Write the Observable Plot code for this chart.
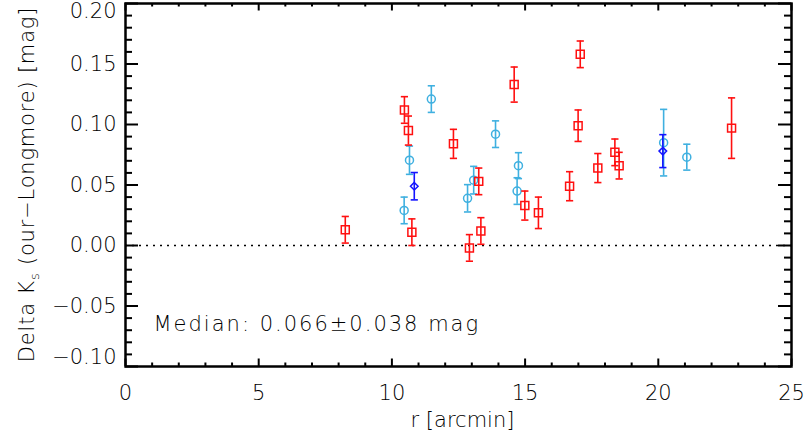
<!DOCTYPE html>
<html>
<head>
<meta charset="utf-8">
<script src="https://cdn.jsdelivr.net/npm/d3@7"></script>
<script src="https://cdn.jsdelivr.net/npm/@observablehq/plot@0.6"></script>
<style>
  html, body { margin: 0; padding: 0; background: #fff; }
  svg { display: block; }
</style>
</head>
<body>
<div id="chart"></div>
<script>
// ---- data ----
const redR = [8.25, 10.47, 10.62, 10.75, 12.31, 12.91, 13.26, 13.34, 14.59, 14.99, 15.50, 16.67, 16.99, 17.07, 17.73, 18.37, 18.53, 22.75];
const redD = [0.013, 0.112, 0.095, 0.011, 0.084, -0.002, 0.053, 0.012, 0.133, 0.033, 0.027, 0.049, 0.099, 0.158, 0.064, 0.077, 0.066, 0.097];
const redE = [0.011, 0.011, 0.012, 0.011, 0.012, 0.011, 0.011, 0.011, 0.0145, 0.012, 0.013, 0.012, 0.013, 0.011, 0.012, 0.011, 0.011, 0.025];

const cyanR = [10.46, 10.66, 11.48, 12.84, 13.07, 13.89, 14.70, 14.75, 20.20, 21.07];
const cyanD = [0.029, 0.0705, 0.121, 0.039, 0.054, 0.092, 0.045, 0.066, 0.085, 0.073];
const cyanE = [0.011, 0.0117, 0.011, 0.0113, 0.0114, 0.011, 0.011, 0.0107, 0.0275, 0.0107];

const blueR = [10.84, 20.17];
const blueD = [0.049, 0.078];
const blueE = [0.0113, 0.0136];

const xMajorTicks = [0, 5, 10, 15, 20, 25];
const xMinorTicks = d3.range(0, 25.5, 1).filter(d => d % 5 !== 0);
const yMajorTicks = [-0.10, -0.05, 0.00, 0.05, 0.10, 0.15, 0.20];
const yMinorTicks = d3.range(-10, 21, 1).filter(d => d % 5 !== 0).map(d => d / 100);
const zeroLine = [0];

const xLabel = "r [arcmin]";
const medianLabel = "Median: 0.066±0.038 mag";

// ---- build tables ----
const toRows = (R, D, E) => R.map((r, i) => ({r, d: D[i], e: E[i]}));
const red = toRows(redR, redD, redE);
const cyan = toRows(cyanR, cyanD, cyanE);
const blue = toRows(blueR, blueD, blueE);

// ---- layout ----
const W = 806, H = 438;
const mL = 125, mR = 15, mT = 3, mB = 72;
const innerW = W - mL - mR, innerH = H - mT - mB;

const cap = {draw(ctx, size) { const r = Math.sqrt(size / Math.PI); ctx.moveTo(-r, 0); ctx.lineTo(r, 0); }};
const diamond = {draw(ctx, size) { const r = Math.sqrt(size / Math.PI); ctx.moveTo(0, -r); ctx.lineTo(r, 0); ctx.lineTo(0, r); ctx.lineTo(-r, 0); ctx.closePath(); }};

const fmt = d3.format(".2f");

function series(rows, color, symbol, r) {
  return [
    Plot.ruleX(rows, {x: "r", y1: d => d.d - d.e, y2: d => d.d + d.e, stroke: color, strokeWidth: 1.6}),
    Plot.dot(rows, {x: "r", y: d => d.d + d.e, symbol: cap, r: 3.6, stroke: color, strokeWidth: 1.6, fill: "none"}),
    Plot.dot(rows, {x: "r", y: d => d.d - d.e, symbol: cap, r: 3.6, stroke: color, strokeWidth: 1.6, fill: "none"}),
    Plot.dot(rows, {x: "r", y: "d", symbol, r, stroke: color, strokeWidth: 1.5, fill: "none"})
  ];
}

const tk = {stroke: "black", strokeWidth: 2};

const chart = Plot.plot({
  width: W, height: H,
  marginLeft: mL, marginRight: mR, marginTop: mT, marginBottom: mB,
  style: {fontFamily: "'DejaVu Sans', sans-serif", fontSize: "21px", fontWeight: 300, color: "#000", background: "#fff"},
  x: {domain: [0, 25]},
  y: {domain: [-0.10, 0.20]},
  marks: [
    Plot.ruleY(zeroLine, {y: d => d, stroke: "black", strokeWidth: 1.6, strokeDasharray: "2,5"}),
    ...series(cyan, "#3fb0e0", "circle", 4),
    ...series(red, "#ff1010", "square", 4.5),
    ...series(blue, "#1414ff", diamond, 3.8),
    // inward ticks on all four sides
    Plot.tickX(xMinorTicks, {x: d => d, insetTop: innerH - 3.5, ...tk}),
    Plot.tickX(xMinorTicks, {x: d => d, insetBottom: innerH - 3.5, ...tk}),
    Plot.tickX(xMajorTicks, {x: d => d, insetTop: innerH - 7.5, ...tk}),
    Plot.tickX(xMajorTicks, {x: d => d, insetBottom: innerH - 7.5, ...tk}),
    Plot.tickY(yMinorTicks, {y: d => d, insetRight: innerW - 7, ...tk}),
    Plot.tickY(yMinorTicks, {y: d => d, insetLeft: innerW - 7, ...tk}),
    Plot.tickY(yMajorTicks, {y: d => d, insetRight: innerW - 13, ...tk}),
    Plot.tickY(yMajorTicks, {y: d => d, insetLeft: innerW - 13, ...tk}),
    Plot.frame({stroke: "black", strokeWidth: 2.5}),
    // tick labels
    Plot.axisX(xMajorTicks, {tickSize: 0, tickPadding: 19, label: null, tickFormat: d => String(d)}),
    Plot.axisY(yMajorTicks.slice(1, -1), {tickSize: 0, tickPadding: 9, label: null, tickFormat: fmt}),
    Plot.axisY(yMajorTicks.slice(-1), {tickSize: 0, tickPadding: 9, label: null, tickFormat: fmt, dy: 8}),
    Plot.axisY(yMajorTicks.slice(0, 1), {tickSize: 0, tickPadding: 9, label: null, tickFormat: fmt, dy: -9}),
    // titles / annotation
    Plot.text([xLabel], {frameAnchor: "bottom", text: d => d, dx: 4, dy: 60, lineAnchor: "bottom", fill: "#000"}),
    Plot.text([medianLabel], {frameAnchor: "bottom-left", text: d => d, dx: 28, dy: -36, textAnchor: "start", lineAnchor: "bottom", fill: "#000"})
  ]
});

const svg = d3.select(chart);
// wider spacing for the annotation, as in the reference font
svg.selectAll("text").filter(function() { return this.textContent === medianLabel; })
  .style("letter-spacing", "2px");

// y-axis title with subscript
const yt = svg.append("text")
  .attr("transform", `translate(34, ${mT + innerH / 2}) rotate(-90)`)
  .attr("text-anchor", "middle")
  .attr("fill", "#000")
  .style("letter-spacing", "0.8px");
yt.append("tspan").text("Delta K");
yt.append("tspan").text("s").attr("dy", 5).attr("font-size", "13px");
yt.append("tspan").text(" (our−Longmore) [mag]").attr("dy", -5);

document.getElementById("chart").appendChild(chart);
</script>
</body>
</html>
